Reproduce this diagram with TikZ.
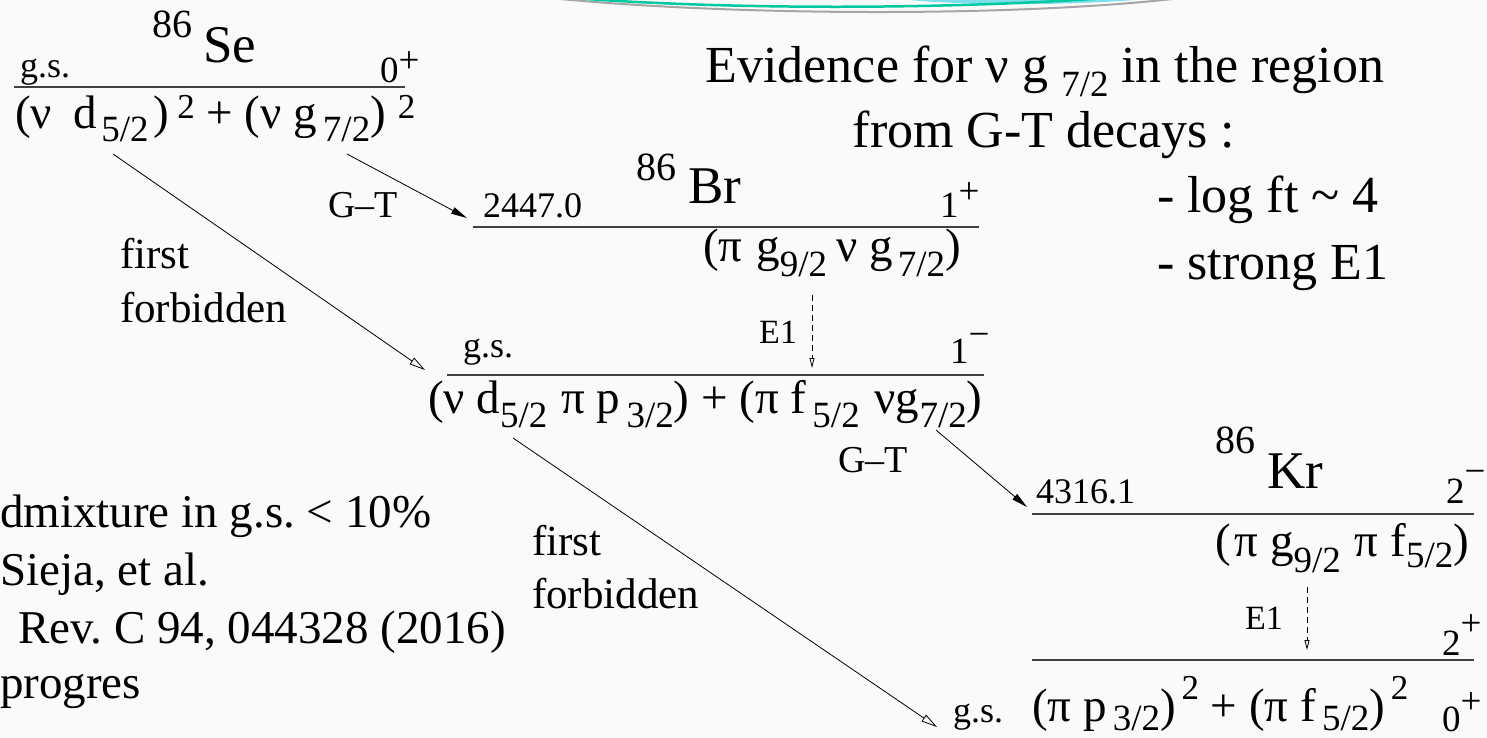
\documentclass[tikz,border=0pt]{standalone}
\usepackage{fontspec}
\setmainfont{Liberation Serif}
\usetikzlibrary{arrows.meta}
\frenchspacing
\newcommand\myfs[1]{\fontsize{#1}{#1}\selectfont}
\newcommand\lo[2]{\raisebox{-#1pt}{\myfs{37}#2}}
\newcommand\hi[2]{\raisebox{#1pt}{\myfs{35}#2}}
\newcommand\spn[3]{#1\raisebox{#2pt}{#3}}
\definecolor{swteal}{RGB}{0,200,160}
\definecolor{swcyan}{RGB}{125,222,236}
\begin{document}
\begin{tikzpicture}[x=1pt,y=-1pt,
  every node/.style={inner sep=0pt,outer sep=0pt,text=black},
  lvl/.style={line width=1.3pt,draw=black!75},
  gt/.style={-{Triangle[length=16pt,width=7pt]},line width=0.8pt},
  ff/.style={-{Triangle[open,length=16pt,width=8pt]},line width=0.8pt},
  eone/.style={dash pattern=on 6pt off 4pt,-{Triangle[open,length=10pt,width=5pt]},line width=0.8pt},
  nuc/.style={font=\myfs{53}},
  mass/.style={font=\myfs{40}},
  small/.style={font=\myfs{36}},
  spin/.style={font=\myfs{37}},
  conf/.style={font=\myfs{47}},
  lab/.style={font=\myfs{38}},
  fflab/.style={font=\myfs{43},align=left},
  slide/.style={font=\myfs{52}},
  note/.style={font=\myfs{47}}]

\fill[black!2] (0,0) rectangle (1487,737);
\useasboundingbox (0,0) rectangle (1487,737);

% decorative swoosh
\draw[gray!70,line width=2pt] (540,-3) .. controls (720,16) and (1020,18) .. (1190,-3);
\fill[swcyan] (880,-3) .. controls (960,7) and (1080,6) .. (1170,-3) -- cycle;
\draw[swteal,line width=2.5pt] (560,-3) .. controls (720,10) and (950,10) .. (1120,-3);

% ---------------- 86Se ----------------
\node[mass,anchor=base west] (se86) at (152,37) {86};
\node[nuc,anchor=base west] (se) at (203,62) {Se};
\node[small,anchor=base west] (segs) at (20,77) {g.s.};
\node[spin,anchor=base west] (sespin) at (380,82) {\spn{0}{10}{+}};
\coordinate (seL) at (14,87);
\coordinate (seR) at (405,87);
\draw[lvl] (seL) -- (seR);
\node[conf,anchor=base west] (seconf) at (15,128)
  {(ν\hspace{22pt}d\hspace{4pt}\lo{13}{5/2}\hspace{5pt})\hspace{8pt}\hi{10}{2} + (ν g\hspace{6pt}\lo{13}{7/2})\hspace{12pt}\hi{10}{2}};

% ---------------- 86Br ----------------
\node[mass,anchor=base west] (br86) at (636,180) {86};
\node[nuc,anchor=base west] (br) at (688,203) {Br};
\node[small,anchor=base west] (brE) at (483,217) {2447.0};
\node[spin,anchor=base west] (brspinA) at (940,217) {\spn{1}{14}{+}};
\coordinate (brAL) at (473,227);
\coordinate (brAR) at (979,227);
\draw[lvl] (brAL) -- (brAR);
\node[conf,anchor=base west] (brconfA) at (703,261)
  {(π\hspace{14pt}g\lo{15}{9/2}\hspace{9pt}ν\hspace{12pt}g\hspace{5pt}\lo{15}{7/2})};

\node[small,anchor=base west] (brgs) at (463,357) {g.s.};
\node[spin,anchor=base west] (brspinB) at (950,363) {\spn{1}{17}{−}};
\coordinate (brBL) at (447,375);
\coordinate (brBR) at (984,375);
\draw[lvl] (brBL) -- (brBR);
\node[conf,anchor=base west] (brconfB) at (428,413)
  {(ν d\lo{14}{5/2}\hspace{14pt}π p\lo{14}{\,3/2}) + (π f\lo{14}{\,5/2}\hspace{15pt}νg\lo{14}{7/2})};

\coordinate (brE1s) at (812,295);
\coordinate (brE1e) at (812,368);
\draw[eone] (brE1s) -- (brE1e);
\node[font=\myfs{34},anchor=base east] (brE1lab) at (797,343) {E1};

% ---------------- 86Kr ----------------
\node[mass,anchor=base west] (kr86) at (1215,453) {86};
\node[nuc,anchor=base west] (kr) at (1267,488) {Kr};
\node[small,anchor=base west] (krE) at (1036,503) {4316.1};
\node[spin,anchor=base west] (krspinA) at (1446,503) {\spn{2}{20}{−}};
\coordinate (krAL) at (1032,514);
\coordinate (krAR) at (1474,514);
\draw[lvl] (krAL) -- (krAR);
\node[conf,anchor=base west] (krconfA) at (1215,556)
  {(\hspace{4pt}π g\lo{16}{9/2}\hspace{14pt}π f\lo{11}{5/2})};

\node[spin,anchor=base west] (krspinB) at (1442,655) {\spn{2}{20}{+}};
\coordinate (krBL) at (1032,660);
\coordinate (krBR) at (1474,660);
\draw[lvl] (krBL) -- (krBR);
\node[conf,anchor=base west] (krconfB) at (1032,721)
  {(π p\lo{9}{\,3/2})\hi{22}{\,2} + (π f\lo{9}{\,5/2})\hi{22}{\,2}};
\node[spin,anchor=base west] (krspinC) at (1442,731) {\spn{0}{18}{+}};
\node[small,anchor=base east] (krgs) at (1003,722) {g.s.};

\coordinate (krE1s) at (1307,587);
\coordinate (krE1e) at (1307,650);
\draw[eone] (krE1s) -- (krE1e);
\node[font=\myfs{34},anchor=base west] (krE1lab) at (1245,629) {E1};

% ---------------- transitions ----------------
\coordinate (gt1s) at (347,154);
\coordinate (gt1e) at (467,218);
\draw[gt] (gt1s) -- (gt1e);
\node[lab,anchor=base west] (gt1lab) at (328,217) {G–T};

\coordinate (ff1s) at (113,154);
\coordinate (ff1e) at (425,370);
\draw[ff] (ff1s) -- (ff1e);
\node[fflab,anchor=base west] (ff1a) at (120,268) {first};
\node[fflab,anchor=base west] (ff1b) at (120,322) {forbidden};

\coordinate (gt2s) at (936,430);
\coordinate (gt2e) at (1027,507);
\draw[gt] (gt2s) -- (gt2e);
\node[lab,anchor=base west] (gt2lab) at (838,472) {G–T};

\coordinate (ff2s) at (513,438);
\coordinate (ff2e) at (937,727);
\draw[ff] (ff2s) -- (ff2e);
\node[fflab,anchor=base west] (ff2a) at (532,555) {first};
\node[fflab,anchor=base west] (ff2b) at (532,608) {forbidden};

% ---------------- slide text ----------------
\node[slide,anchor=base] (ev1) at (1045,82) {Evidence for ν g \lo{14}{7/2} in the region};
\node[slide,anchor=base] (ev2) at (1044,147) {from G-T decays :};
\node[slide,anchor=base west] (ev3) at (1157,212) {- log ft \textasciitilde{} 4};
\node[slide,anchor=base west] (ev4) at (1157,279) {- strong E1};

\node[note,anchor=base west] (n1) at (0,527) {dmixture in g.s. < 10\%};
\node[note,anchor=base west] (n2) at (0,585) {Sieja, et al.};
\node[note,anchor=base west] (n3) at (18,643) {Rev. C 94, 044328 (2016)};
\node[note,anchor=base west] (n4) at (0,698) {progres};
\end{tikzpicture}
\end{document}
